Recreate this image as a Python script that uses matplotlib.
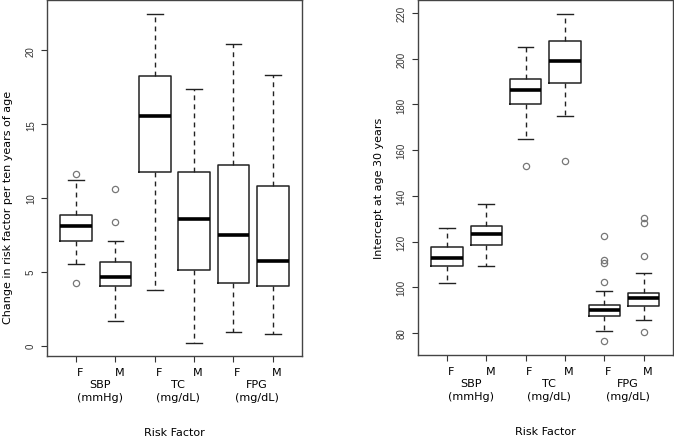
import matplotlib
matplotlib.use("Agg")
import matplotlib.pyplot as plt
import matplotlib.transforms as mtransforms

# box order: SBP F, SBP M, TC F, TC M, FPG F, FPG M
sexes = ["F", "M", "F", "M", "F", "M"]
groups = ["SBP\n(mmHg)", "TC\n(mg/dL)", "FPG\n(mg/dL)"]

# left: change in risk factor per ten years of age
slope_whislo = [5.5, 1.65, 3.77, 0.18, 0.93, 0.81]
slope_q1 = [7.1, 4.02, 11.75, 5.12, 4.22, 4.04]
slope_med = [8.12, 4.67, 15.59, 8.57, 7.51, 5.75]
slope_q3 = [8.82, 5.64, 18.27, 11.78, 12.25, 10.81]
slope_whishi = [11.25, 7.06, 22.44, 17.42, 20.46, 18.36]
slope_fliers = [[11.64, 4.24], [8.35, 10.62], [], [], [], []]

# right: intercept at age 30 years
icpt_whislo = [101.8, 109.3, 165.0, 174.8, 80.7, 85.8]
icpt_q1 = [109.2, 118.5, 180.3, 189.4, 87.5, 91.6]
icpt_med = [113.0, 123.3, 186.5, 198.9, 90.0, 95.2]
icpt_q3 = [117.4, 126.7, 191.2, 207.8, 92.2, 97.4]
icpt_whishi = [126.0, 136.6, 205.2, 219.8, 98.2, 106.3]
icpt_fliers = [[], [], [153.2], [155.1],
               [122.4, 112.1, 110.6, 102.1, 76.3],
               [130.2, 128.3, 113.7, 80.3]]

ARIAL = ["Liberation Sans", "DejaVu Sans"]


def stats(lo, q1, med, q3, hi, fl):
    return [dict(whislo=a, q1=b, med=c, q3=d, whishi=e, fliers=f)
            for a, b, c, d, e, f in zip(lo, q1, med, q3, hi, fl)]


def draw(ax, st, ylim, yticks, ylabel, label_y):
    pos = list(range(1, len(st) + 1))
    ax.bxp(st, positions=pos, widths=0.8, showfliers=True,
           boxprops=dict(color="#222222", lw=1.1),
           medianprops=dict(color="black", lw=2.6, solid_capstyle="butt"),
           whiskerprops=dict(color="#222222", lw=1.0, ls=(0, (3.5, 3))),
           capprops=dict(color="#222222", lw=1.0),
           capwidths=0.4,
           flierprops=dict(marker="o", mfc="none", mec="#777777", ms=4.5, mew=0.9))
    ax.set_xlim(0.26, 6.74)
    ax.set_ylim(*ylim)
    ax.set_yticks(yticks)
    ax.set_yticklabels([str(t) for t in yticks], rotation=90, va="center",
                       family=ARIAL, fontsize=7, color="#333333")
    ax.set_xticks(pos)
    ax.set_xticklabels([])
    ax.tick_params(axis="both", length=4, width=0.8, color="#333333")
    ax.tick_params(axis="y", pad=4)
    for s in ax.spines.values():
        s.set_color("#444444")
        s.set_linewidth(1.0)
    ax.set_ylabel(ylabel, fontsize=8, va="center")
    ax.yaxis.set_label_coords(-0.153, label_y)
    tr = mtransforms.blended_transform_factory(ax.transData, ax.transAxes)
    for p, s in zip(pos, sexes):
        ax.text(p + 0.1, -0.045, s, transform=tr, ha="center", va="center", fontsize=8)
    for i, g in enumerate(groups):
        ax.text(2 * i + 1.6, -0.097, g, transform=tr, ha="center", va="center",
                fontsize=8, linespacing=1.45)
    ax.text(0.5, -0.215, "Risk Factor", transform=ax.transAxes, ha="center",
            va="center", fontsize=8)


fig = plt.figure(figsize=(6.74, 4.39), dpi=100)
ax1 = fig.add_axes([0.0697, 0.187, 0.3783, 0.810])
ax2 = fig.add_axes([0.620, 0.189, 0.378, 0.809])

draw(ax1, stats(slope_whislo, slope_q1, slope_med, slope_q3, slope_whishi, slope_fliers),
     (-0.7, 23.4), [0, 5, 10, 15, 20], "Change in risk factor per ten years of age", 0.42)
draw(ax2, stats(icpt_whislo, icpt_q1, icpt_med, icpt_q3, icpt_whishi, icpt_fliers),
     (70.3, 225.8), [80, 100, 120, 140, 160, 180, 200, 220], "Intercept at age 30 years", 0.473)

fig.savefig("out.png", dpi=100)
